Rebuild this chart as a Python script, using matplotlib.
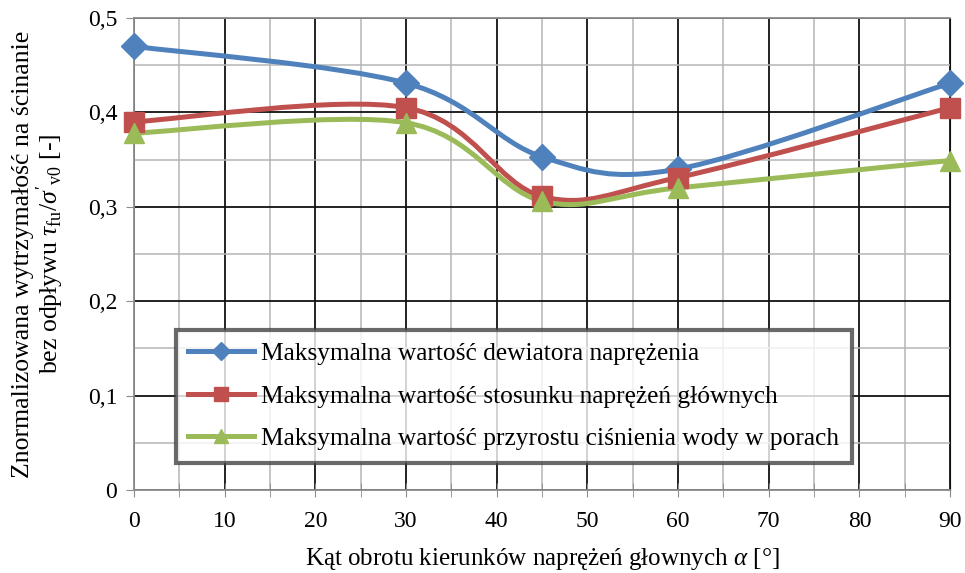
import numpy as np
import matplotlib.pyplot as plt
from matplotlib.path import Path
from matplotlib.patches import PathPatch
from matplotlib.lines import Line2D

plt.rcParams['font.family'] = ['Liberation Serif', 'DejaVu Serif']
plt.rcParams['mathtext.fontset'] = 'custom'
plt.rcParams['mathtext.rm'] = 'Liberation Serif'
plt.rcParams['mathtext.it'] = 'Liberation Serif:italic'

# Data
angles = [0, 30, 45, 60, 90]
dewiator = [0.470, 0.431, 0.353, 0.340, 0.431]
stosunek = [0.390, 0.405, 0.311, 0.331, 0.405]
cisnienie = [0.378, 0.389, 0.306, 0.320, 0.349]

labels = ['Maksymalna wartość dewiatora naprężenia',
          'Maksymalna wartość stosunku naprężeń głównych',
          'Maksymalna wartość przyrostu ciśnienia wody w porach']
colors = ['#4F81BD', '#C0504D', '#9BBB59']
markers = ['D', 's', '^']
msizes = [13, 14, 15]


def smooth_path(x, y):
    # Excel-like smoothed line: cubic Bezier through the points
    p = np.column_stack([x, y]).astype(float)
    ext = np.vstack([p[0], p, p[-1]])
    verts = [p[0]]
    codes = [Path.MOVETO]
    for i in range(len(p) - 1):
        c1 = ext[i + 1] + (ext[i + 2] - ext[i]) / 6
        c2 = ext[i + 2] - (ext[i + 3] - ext[i + 1]) / 6
        verts += [c1, c2, p[i + 1]]
        codes += [Path.CURVE4] * 3
    return Path(verts, codes)


fig = plt.figure(figsize=(9.65, 5.73), dpi=100)
ax = fig.add_axes([0.1389, 0.1449, 0.8456, 0.8237])

ax.set_xlim(0, 90)
ax.set_ylim(0, 0.5)
ax.set_xticks(np.arange(0, 91, 10))
ax.set_xticks(np.arange(5, 90, 10), minor=True)
ax.set_yticks(np.arange(0, 0.51, 0.1))
ax.set_yticks(np.arange(0.05, 0.5, 0.1), minor=True)
ax.set_yticklabels(['0', '0,1', '0,2', '0,3', '0,4', '0,5'])

ax.grid(which='major', color='#111111', linewidth=1.3)
ax.grid(which='minor', color='#B5B5B5', linewidth=1.1)
ax.set_axisbelow(True)

for s in ['left', 'bottom', 'top']:
    ax.spines[s].set_color('#8C8C8C')
    ax.spines[s].set_linewidth(1.3)
ax.spines['right'].set_color('#111111')

ax.tick_params(axis='x', which='both', direction='inout', length=10,
               color='#8C8C8C', labelsize=17, pad=10)
ax.tick_params(axis='y', which='major', direction='out', length=6,
               color='#8C8C8C', labelsize=17, pad=6)
ax.tick_params(axis='y', which='minor', length=0)

handles = []
for yv, c, m, ms, lab in zip([dewiator, stosunek, cisnienie], colors, markers, msizes, labels):
    ax.add_patch(PathPatch(smooth_path(angles, yv), facecolor='none',
                           edgecolor=c, linewidth=3.6, zorder=3))
    ax.plot(angles, yv, linestyle='none', marker=m, markersize=ms,
            color=c, zorder=4, clip_on=False)
    handles.append(Line2D([], [], color=c, linewidth=3.6, marker=m,
                          markersize=ms * 0.7, label=lab))

leg = ax.legend(handles=handles, loc='lower left', bbox_to_anchor=(0.051, 0.057),
                fontsize=18.3, frameon=True, fancybox=False, handlelength=2.6,
                handletextpad=0.25, labelspacing=0.78, borderpad=0.5,
                borderaxespad=0)
leg.get_frame().set_edgecolor('#444444')
leg.get_frame().set_linewidth(3)

ax.set_xlabel('Kąt obrotu kierunków naprężeń głownych $\\alpha$ [°]',
              fontsize=18, labelpad=10, fontfamily='Liberation Serif')
ax.set_ylabel("Znormalizowana wytrzymałość na ścinanie\n"
              "bez odpływu $\\tau_{\\mathrm{fu}}/\\sigma'_{\\mathrm{v0}}$ [-]",
              fontsize=18.5, labelpad=16, linespacing=1.0,
              fontfamily='Liberation Serif')

fig.savefig('out.png', dpi=100)
